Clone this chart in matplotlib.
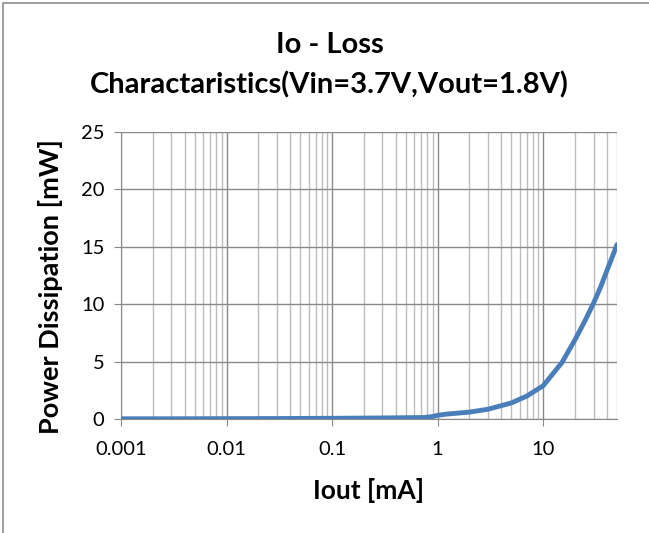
import matplotlib.pyplot as plt
import matplotlib.ticker as mticker
from matplotlib.patches import Rectangle

# --- data
iout_ma = [0.001, 0.003, 0.01, 0.03, 0.1, 0.3, 0.6, 0.75, 0.9, 1.0, 1.2, 1.5, 2, 3, 5, 7,
           10, 12, 15, 20, 25, 30, 35, 40, 45, 50]
loss_mw = [0.02, 0.02, 0.03, 0.04, 0.06, 0.09, 0.12, 0.13, 0.22, 0.32, 0.42, 0.5, 0.6, 0.85,
           1.4, 2.0, 2.9, 3.8, 4.9, 6.9, 8.6, 10.1, 11.5, 12.9, 14.1, 15.2]

x_ticks = [0.001, 0.01, 0.1, 1, 10]
x_tick_labels = ['0.001', '0.01', '0.1', '1', '10']
y_ticks = [0, 5, 10, 15, 20, 25]

plt.rcParams['font.family'] = ['Lato', 'DejaVu Sans']

fig = plt.figure(figsize=(6.49, 5.33), dpi=100)
fig.patches.append(Rectangle((0.005, -0.05), 1.1, 1.044, transform=fig.transFigure,
                             fill=False, edgecolor='#8c8c8c', linewidth=1.2))

ax = fig.add_axes([0.1864, 0.2139, 0.7643, 0.5384])
ax.plot(iout_ma, loss_mw, color='#4a7ebb', linewidth=3.5, solid_capstyle='round',
        solid_joinstyle='round', zorder=3)

ax.set_xscale('log')
ax.set_xlim(0.001, 50)
ax.set_ylim(0, 25)
ax.set_xticks(x_ticks)
ax.set_xticklabels(x_tick_labels)
ax.xaxis.set_minor_locator(mticker.LogLocator(base=10, subs=range(2, 10), numticks=20))
ax.xaxis.set_minor_formatter(mticker.NullFormatter())
ax.set_yticks(y_ticks)

ax.grid(True, which='major', color='#8a8a8a', linewidth=1.0)
ax.grid(True, which='minor', axis='x', color='#bdbdbd', linewidth=1.0)
ax.set_axisbelow(True)

for s in ['top', 'right']:
    ax.spines[s].set_visible(False)
for s in ['left', 'bottom']:
    ax.spines[s].set_color('#8a8a8a')
ax.tick_params(which='major', direction='out', length=5, color='#8a8a8a', labelsize=14.5)
ax.tick_params(which='minor', length=0)
ax.tick_params(axis='x', pad=11)
ax.tick_params(axis='y', pad=7)

ax.set_xlabel('Iout [mA]', fontsize=19, fontweight='bold', labelpad=14)
ax.set_ylabel('Power Dissipation [mW]', fontsize=19.5, fontweight='bold')
ax.yaxis.set_label_coords(-0.117, 0.46)
fig.text(0.508, 0.915, 'Io - Loss', ha='center', va='center', fontsize=21, fontweight='bold')
fig.text(0.508, 0.84, 'Charactaristics(Vin=3.7V,Vout=1.8V)', ha='center', va='center',
         fontsize=21, fontweight='bold')

fig.savefig('out.png', dpi=100)
